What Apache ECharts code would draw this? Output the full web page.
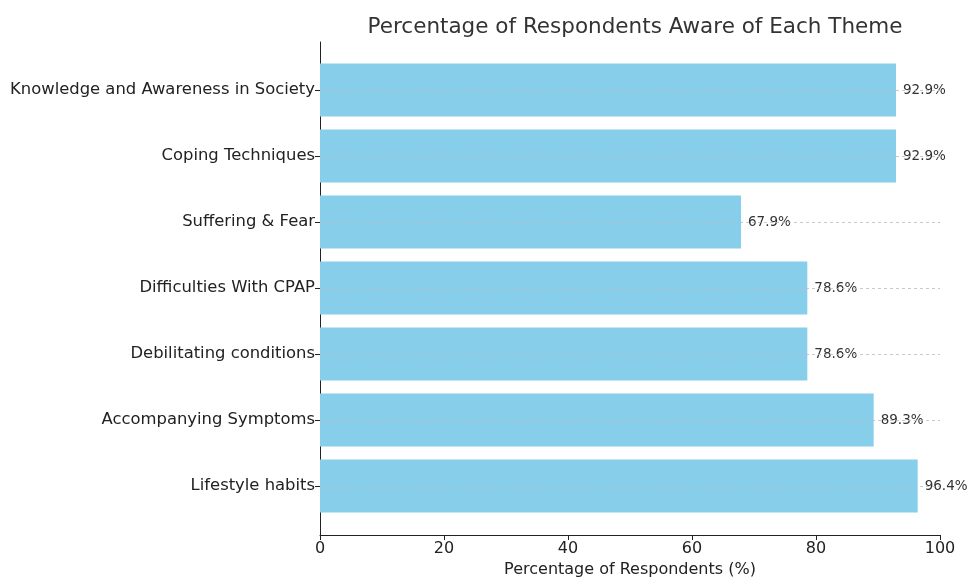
<!DOCTYPE html>
<html>
<head>
<meta charset="utf-8">
<script src="https://cdn.jsdelivr.net/npm/echarts@6/dist/echarts.min.js"></script>
<style>
  html, body { margin: 0; padding: 0; background: #fff; }
  #chart { width: 968px; height: 577px; }
</style>
</head>
<body>
<div id="chart"></div>
<script>
// categories listed bottom to top, as the category axis draws them
const themes = [
  'Lifestyle habits',
  'Accompanying Symptoms',
  'Debilitating conditions',
  'Difficulties With CPAP',
  'Suffering & Fear',
  'Coping Techniques',
  'Knowledge and Awareness in Society'
];
const percentAware = [96.4, 89.3, 78.6, 78.6, 67.9, 92.9, 92.9];
const xTicks = [0, 20, 40, 60, 80, 100];

const font = 'DejaVu Sans';
const chart = echarts.init(document.getElementById('chart'), null, { renderer: 'canvas' });

const option = {
  backgroundColor: '#ffffff',
  animation: false,
  title: {
    text: 'Percentage of Respondents Aware of Each Theme',
    left: 630,
    top: 11,
    textAlign: 'center',
    textStyle: { fontFamily: font, fontSize: 21.5, fontWeight: 'normal', color: '#333333' }
  },
  grid: [
    // bars
    { left: 320, width: 620, top: 57, height: 462, outerBoundsMode: 'none', containLabel: false },
    // frame (axis spines and x ticks)
    { left: 320, width: 620, top: 42, height: 493, outerBoundsMode: 'none', containLabel: false }
  ],
  xAxis: [
    { gridIndex: 0, type: 'value', min: 0, max: 100, show: false },
    {
      gridIndex: 1, type: 'value', min: 0, max: 100, interval: 20,
      name: 'Percentage of Respondents (%)',
      nameLocation: 'middle',
      nameGap: 26,
      nameTextStyle: { fontFamily: font, fontSize: 16, color: '#222222' },
      axisLine: { show: true, onZero: false, lineStyle: { color: '#222222', width: 1 } },
      axisTick: { show: true, length: 5, lineStyle: { color: '#222222' } },
      axisLabel: {
        fontFamily: font, fontSize: 16, color: '#222222', margin: 6,
        formatter: function (v) { return xTicks.indexOf(v) >= 0 ? String(v) : ''; }
      },
      splitLine: { show: false }
    }
  ],
  yAxis: [
    {
      gridIndex: 0, type: 'category', data: themes,
      axisLine: { show: false },
      axisTick: { show: true, alignWithLabel: true, length: 5, lineStyle: { color: '#222222' } },
      axisLabel: { fontFamily: font, fontSize: 16.4, color: '#222222', margin: 5 },
      splitLine: { show: false }
    },
    {
      gridIndex: 1, type: 'value', min: 0, max: 1,
      axisLine: { show: true, onZero: false, lineStyle: { color: '#222222', width: 1 } },
      axisTick: { show: false },
      axisLabel: { show: false },
      splitLine: { show: false }
    }
  ],
  series: [{
    type: 'bar',
    xAxisIndex: 0,
    yAxisIndex: 0,
    data: percentAware,
    barWidth: '80%',
    itemStyle: { color: '#87CEEB' },
    label: {
      show: true,
      position: 'right',
      distance: 7,
      fontFamily: font,
      fontSize: 13.5,
      color: '#333333',
      formatter: function (p) { return p.value.toFixed(1) + '%'; }
    },
    markLine: {
      silent: true,
      symbol: 'none',
      label: { show: false },
      lineStyle: { type: [3, 3], color: '#bbbbbb', width: 0.8 },
      data: themes.map(function (t) { return { yAxis: t }; })
    }
  }]
};

chart.setOption(option);
</script>
</body>
</html>
